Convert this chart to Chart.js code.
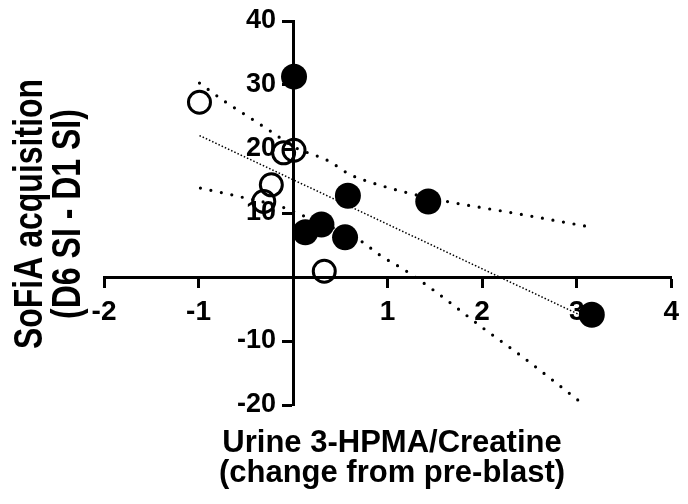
<!DOCTYPE html>
<html>
<head>
<meta charset="utf-8">
<script src="https://cdn.jsdelivr.net/npm/chart.js@4"></script>
<style>
  html, body { margin: 0; padding: 0; background: #fff; }
  #wrap { width: 688px; height: 504px; }
</style>
</head>
<body>
<div id="wrap"><canvas id="scatter"></canvas></div>
<script>
// closed circles
const closedX = [0.01, 0.13, 0.30, 0.55, 0.58, 1.43, 3.16]
const closedY = [31.3, 7.0, 8.2, 6.2, 12.7, 11.8, -5.9]
// open circles
const openX = [-0.99, -0.10, 0.01, -0.23, -0.31, 0.33]
const openY = [27.3, 19.4, 19.8, 14.4, 11.8, 0.9]
// regression line and its confidence bands
const fitX = [-0.99, 3.16]
const fitY = [22.1, -6.8]
const upperX = [-0.99, -0.7, -0.51, -0.21, 0, 0.38, 0.59, 0.8, 1.2, 1.63, 2.33, 2.78, 3.11]
const upperY = [30.3, 27.2, 25.4, 22.5, 20.4, 18.1, 16.1, 14.9, 13.2, 11.8, 10.0, 8.8, 7.9]
const lowerX = [-0.98, -0.55, -0.09, 0.12, 0.73, 0.9, 1.2, 1.48, 2.03, 2.42, 3.08]
const lowerY = [13.9, 12.5, 10.8, 9.5, 5.5, 3.6, 0.9, -2.0, -8.2, -12.4, -20]

const xTicks = [-2, -1, 0, 1, 2, 3, 4]
const yTicks = [-20, -10, 0, 10, 20, 30, 40]
const xTitle = ['Urine 3-HPMA/Creatine', '(change from pre-blast)']
const yTitle = ['SoFiA acquisition', '(D6 SI - D1 SI)']

const pts = (xs, ys) => xs.map((x, i) => ({x: x, y: ys[i]}))

Chart.defaults.font.family = "'Liberation Sans', Arial, sans-serif"
Chart.defaults.color = '#000'

// y labels of an axis pinned at x=0 sit on the axis line, push them left of the ticks
const yLabelShift = {
    id: 'yLabelShift',
    beforeDraw(chart) {
        chart.scales.y.getLabelItems().forEach(it => {
            if (!it.shifted) {
                it.options.translation[0] -= 17
                it.shifted = true
            }
        })
    }
}

// axis titles, drawn by hand since both axes cross at zero
const axisTitles = {
    id: 'axisTitles',
    afterDraw(chart) {
        const c = chart.ctx
        c.save()
        c.fillStyle = '#000'
        c.font = "bold 31px 'Liberation Sans', Arial, sans-serif"
        c.textAlign = 'center'
        c.textBaseline = 'alphabetic'
        c.fillText(xTitle[0], 392, 452)
        c.fillText(xTitle[1], 392, 482)
        c.font = "bold 32px 'Liberation Sans', Arial, sans-serif"
        ;[42, 80].forEach((bx, i) => {
            c.save()
            c.translate(bx, 214)
            c.rotate(-Math.PI / 2)
            c.scale(1, 1.25)
            c.fillText(yTitle[i], 0, 0)
            c.restore()
        })
        c.restore()
    }
}

const dotted = (data, opts) => Object.assign({
    type: 'line',
    data: data,
    showLine: true,
    fill: false,
    pointRadius: 0,
    borderColor: '#000',
    tension: 0.4,
    cubicInterpolationMode: 'monotone'
}, opts)

new Chart(document.getElementById('scatter'), {
    type: 'scatter',
    data: {
        datasets: [
            {
                label: 'closed',
                data: pts(closedX, closedY),
                pointRadius: 13,
                pointBackgroundColor: '#000',
                pointBorderColor: '#000',
                pointBorderWidth: 0
            },
            {
                label: 'open',
                data: pts(openX, openY),
                pointRadius: 11,
                pointBackgroundColor: 'rgba(0,0,0,0)',
                pointBorderColor: '#000',
                pointBorderWidth: 3
            },
            dotted(pts(fitX, fitY), {borderWidth: 1.5, borderDash: [1.5, 2], tension: 0}),
            dotted(pts(upperX, upperY), {borderWidth: 3.2, borderDash: [0, 10.7], borderCapStyle: 'round'}),
            dotted(pts(lowerX, lowerY), {borderWidth: 3.2, borderDash: [0, 10.7], borderCapStyle: 'round'})
        ]
    },
    options: {
        responsive: true,
        maintainAspectRatio: false,
        animation: false,
        layout: {padding: {left: 104, right: 10, top: 21, bottom: 99}},
        plugins: {legend: {display: false}, tooltip: {enabled: false}},
        scales: {
            x: {
                type: 'linear',
                position: {y: 0},
                min: -2,
                max: 4,
                afterBuildTicks: s => { s.ticks = xTicks.map(v => ({value: v})) },
                grid: {drawOnChartArea: false, drawTicks: true, tickLength: 9, tickWidth: 3, tickColor: '#000'},
                border: {display: true, width: 3, color: '#000'},
                ticks: {
                    font: {size: 28, weight: 'bold'},
                    padding: 9,
                    maxRotation: 0,
                    callback: v => v === 0 ? '' : v
                }
            },
            y: {
                type: 'linear',
                position: {x: 0},
                min: -20,
                max: 40,
                afterBuildTicks: s => { s.ticks = yTicks.map(v => ({value: v})) },
                grid: {drawOnChartArea: false, drawTicks: true, tickLength: 10, tickWidth: 3, tickColor: '#000'},
                border: {display: true, width: 3, color: '#000'},
                ticks: {
                    font: {size: 27, weight: 'bold'},
                    callback: v => v === 0 ? '' : v
                }
            }
        }
    },
    plugins: [yLabelShift, axisTitles]
})
</script>
</body>
</html>
